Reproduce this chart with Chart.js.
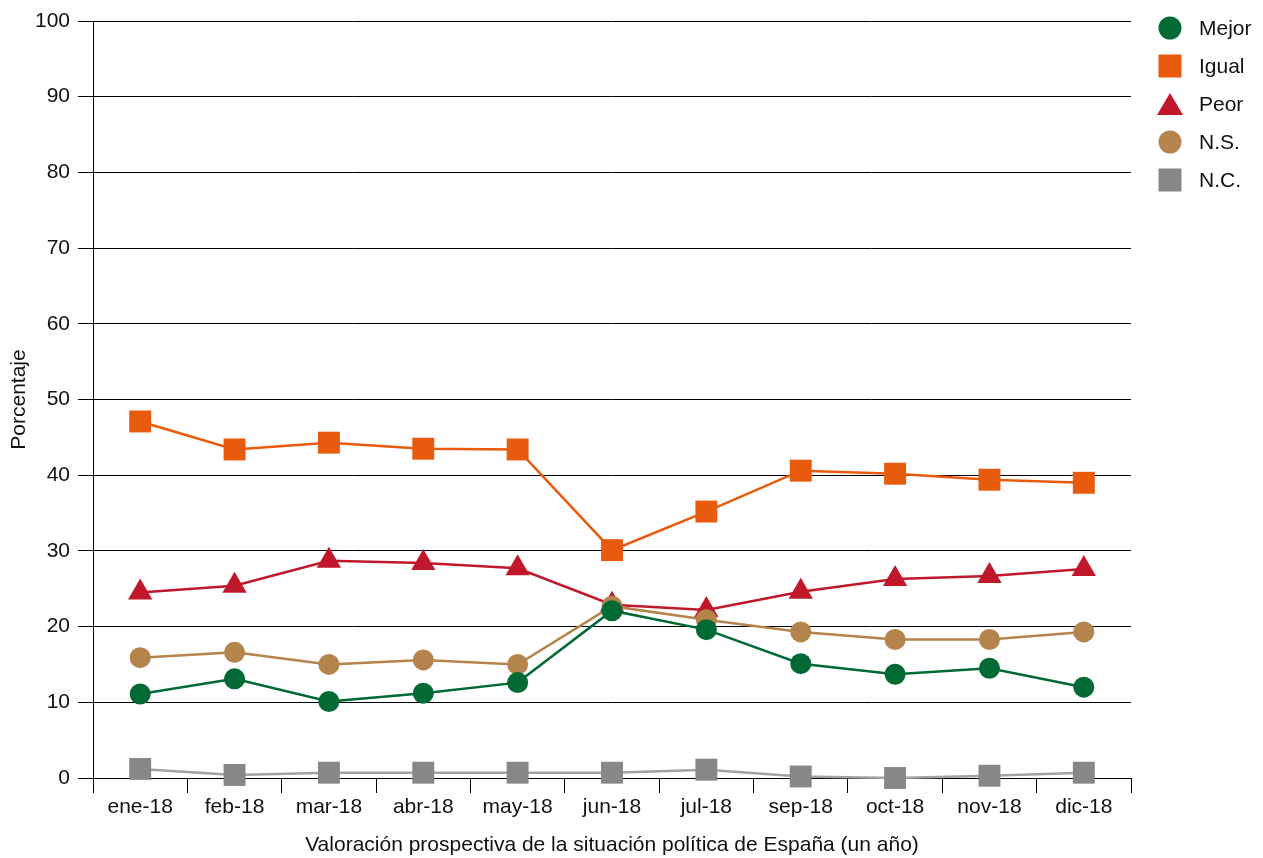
<!DOCTYPE html>
<html>
<head>
<meta charset="utf-8">
<script src="https://cdn.jsdelivr.net/npm/chart.js@4"></script>
<style>
  body { margin: 0; background: #fff; font-family: "Liberation Sans", Arial, sans-serif; }
  #wrap { position: relative; width: 1263px; height: 858px; }
  #legend { position: absolute; left: 0; top: 0; }
  .item { position: absolute; left: 1155px; height: 30px; display: flex; align-items: center; font-size: 21px; color: #111; }
  .item svg { width: 30px; height: 30px; margin-right: 14px; }
</style>
</head>
<body>
<div id="wrap">
  <canvas id="chart" width="1263" height="858"></canvas>
  <div id="legend"></div>
</div>
<script>
const months = ["ene-18", "feb-18", "mar-18", "abr-18", "may-18", "jun-18", "jul-18", "sep-18", "oct-18", "nov-18", "dic-18"];

const mejor = [11.1, 13.1, 10.1, 11.2, 12.6, 22.1, 19.6, 15.1, 13.7, 14.5, 12.0];
const igual = [47.1, 43.4, 44.3, 43.5, 43.4, 30.1, 35.2, 40.6, 40.2, 39.4, 39.0];
const peor = [24.5, 25.4, 28.7, 28.4, 27.7, 22.9, 22.2, 24.6, 26.3, 26.7, 27.6];
const ns = [15.9, 16.6, 15.0, 15.6, 15.0, 22.7, 20.9, 19.3, 18.3, 18.3, 19.3];
const nc = [1.2, 0.4, 0.7, 0.7, 0.7, 0.7, 1.1, 0.2, 0.0, 0.3, 0.7];

const yTicks = [0, 10, 20, 30, 40, 50, 60, 70, 80, 90, 100];

const font = "'Liberation Sans', Arial, sans-serif";
Chart.defaults.font.family = font;
Chart.defaults.font.size = 21;
Chart.defaults.color = "#111";

function series(label, data, color, lineColor, style, radius, order) {
    return {
        label: label,
        data: data,
        borderColor: lineColor,
        backgroundColor: color,
        pointBackgroundColor: color,
        pointBorderColor: color,
        pointBorderWidth: 0,
        pointStyle: style,
        pointRadius: radius,
        pointHoverRadius: radius,
        borderWidth: 2.5,
        tension: 0,
        clip: false,
        order: order
    };
}

const datasets = [
    series("Mejor", mejor, "#006934", "#006934", "circle", 10.5, 0),
    series("Igual", igual, "#E85A0C", "#E85A0C", "rect", 15.5, 3),
    series("Peor", peor, "#C1172A", "#C1172A", "triangle", 14, 2),
    series("N.S.", ns, "#B5834C", "#B5834C", "circle", 10.5, 1),
    series("N.C.", nc, "#878787", "#A3A3A3", "rect", 15.5, 4)
];

const chart = new Chart(document.getElementById("chart"), {
    type: "line",
    data: { labels: months, datasets: datasets },
    options: {
        responsive: false,
        animation: false,
        layout: { padding: { top: 21, right: 132, bottom: 0, left: 0 } },
        plugins: {
            legend: { display: false },
            tooltip: { enabled: false }
        },
        scales: {
            x: {
                offset: true,
                grid: { display: true, drawOnChartArea: false, drawTicks: true, tickLength: 15, color: "#000", offset: true },
                border: { display: true, color: "#000", width: 1 },
                ticks: { padding: 2, font: { size: 21 }, color: "#111" },
                title: {
                    display: true,
                    text: "Valoración prospectiva de la situación política de España (un año)",
                    font: { size: 21 },
                    color: "#111",
                    padding: { top: 0, bottom: 0 }
                },
                afterFit: function (s) { s.height = 80; }
            },
            y: {
                min: 0,
                max: 100,
                afterBuildTicks: function (s) { s.ticks = yTicks.map(v => ({ value: v })); },
                grid: { color: "#000", lineWidth: 1, tickLength: 15 },
                border: { display: true, color: "#000", width: 1 },
                ticks: { padding: 8, font: { size: 21 }, color: "#111" },
                title: {
                    display: true,
                    text: "Porcentaje",
                    font: { size: 21 },
                    color: "#111",
                    padding: { top: 7, bottom: 0 }
                },
                afterFit: function (s) { s.width = 93; }
            }
        }
    }
});

// legend built from the chart datasets
const legendTops = [13, 51, 89, 127, 165];
const legend = document.getElementById("legend");
chart.data.datasets.forEach(function (ds, k) {
    let shape;
    if (ds.pointStyle === "circle") {
        shape = '<circle cx="15" cy="15" r="11.5" fill="' + ds.pointBackgroundColor + '"/>';
    } else if (ds.pointStyle === "rect") {
        shape = '<rect x="3.5" y="3.5" width="23" height="23" fill="' + ds.pointBackgroundColor + '"/>';
    } else {
        shape = '<polygon points="15,4 28,26 2,26" fill="' + ds.pointBackgroundColor + '"/>';
    }
    const div = document.createElement("div");
    div.className = "item";
    div.style.top = legendTops[k] + "px";
    div.innerHTML = '<svg viewBox="0 0 30 30">' + shape + '</svg><span>' + ds.label + '</span>';
    legend.appendChild(div);
});
</script>
</body>
</html>
